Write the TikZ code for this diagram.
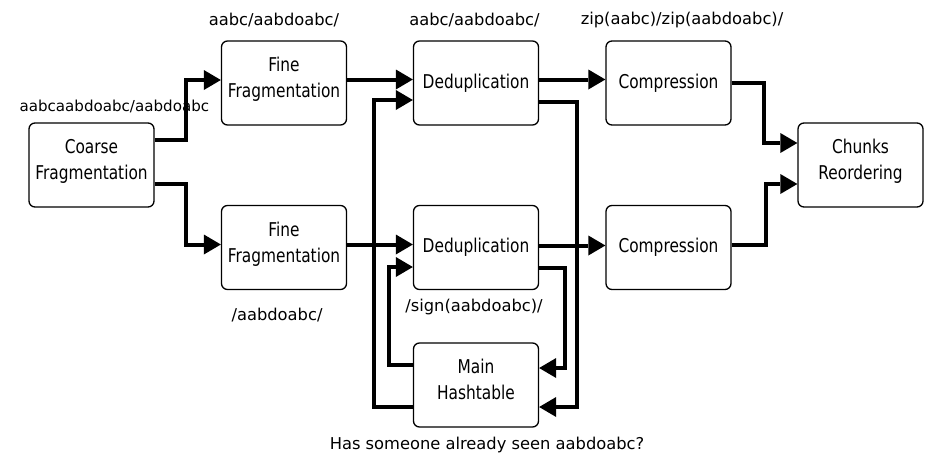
\documentclass[tikz,border=0pt]{standalone}
\usepackage{fontspec}
\setmainfont{DejaVu Sans}
\newfontfamily\boxfont{DejaVu Sans}[FakeStretch=0.81]
\usetikzlibrary{arrows.meta}
% invisible depth on the last line of two-line captions, lifts the text block
\newcommand\lowstrut{\rule[-11pt]{0pt}{0pt}}

\begin{document}
\begin{tikzpicture}[x=1pt,y=-1pt,
  stage/.style={draw, line width=1.3pt, rounded corners=6pt,
    minimum width=125pt, minimum height=84pt, inner sep=0pt,
    align=center, font=\boxfont\fontsize{19}{25.7}\selectfont},
  flow/.style={line width=4pt,
    -{Triangle[length=17pt,width=20pt,line width=0pt]}},
  tag/.style={font=\fontsize{16.3}{19}\selectfont, inner sep=0pt}
]
\useasboundingbox (0,0) rectangle (933,458);

% pipeline stages
\node[stage] (coarse) at (91.5,165)  {Coarse\\Fragmentation\lowstrut};
\node[stage] (fine1)  at (284,83)    {Fine\\Fragmentation\lowstrut};
\node[stage] (fine2)  at (284,247.5) {Fine\\Fragmentation\lowstrut};
\node[stage] (dedup1) at (476,83)    {Deduplication};
\node[stage] (dedup2) at (476,247.5) {Deduplication};
\node[stage] (hash)   at (476,385)   {Main\\Hashtable\lowstrut};
\node[stage] (comp1)  at (668.5,83)    {Compression};
\node[stage] (comp2)  at (668.5,247.5) {Compression};
\node[stage] (chunks) at (860.5,165) {Chunks\\Reordering\lowstrut};

% data labels
\node[tag, font=\fontsize{15.1}{18}\selectfont] (lcoarse) at (114.3,106) {aabcaabdoabc/aabdoabc};
\node[tag] (lfine1)  at (274,20)    {aabc/aabdoabc/};
\node[tag] (ldedup1) at (474.5,20)  {aabc/aabdoabc/};
\node[tag] (lcomp1)  at (682,20)    {zip(aabc)/zip(aabdoabc)/};
\node[tag] (lfine2)  at (277,315)   {/aabdoabc/};
\node[tag] (ldedup2) at (474,307)   {/sign(aabdoabc)/};
\node[tag] (lhash)   at (487,445)   {Has someone already seen aabdoabc?};

% coarse split
\draw[flow] ([yshift=25pt]coarse.east) -- ++(31,0) |- ([yshift=3pt]fine1.west);
\draw[flow] ([yshift=-19pt]coarse.east) -- ++(31,0) |- ([yshift=3pt]fine2.west);

% main flow
\draw[flow] ([yshift=3.5pt]fine1.east) -- ([yshift=3.5pt]dedup1.west);
\draw[flow] ([yshift=3pt]fine2.east) -- ([yshift=3pt]dedup2.west);
\draw[flow] ([yshift=3.5pt]dedup1.east) -- ([yshift=3.5pt]comp1.west);
\draw[flow] ([yshift=2pt]dedup2.east) -- ([yshift=2pt]comp2.west);

% merge into reordering
\draw[flow] (comp1.east) -- ++(32,0) |- ([yshift=22pt]chunks.west);
\draw[flow] ([yshift=2.5pt]comp2.east) -- ++(34,0) |- ([yshift=-19pt]chunks.west);

% hashtable lookups
\draw[flow] ([yshift=20pt]hash.west) -- ++(-24,0) |- ([yshift=-19.5pt]dedup2.west);
\draw[flow] ([yshift=-22pt]hash.west) -- ++(-39,0) |- ([yshift=-17pt]dedup1.west);
\draw[flow] ([yshift=-19pt]dedup1.east) -- ++(38,0) |- ([yshift=-22pt]hash.east);
\draw[flow] ([yshift=-20pt]dedup2.east) -- ++(26,0) |- ([yshift=17pt]hash.east);
\end{tikzpicture}
\end{document}
